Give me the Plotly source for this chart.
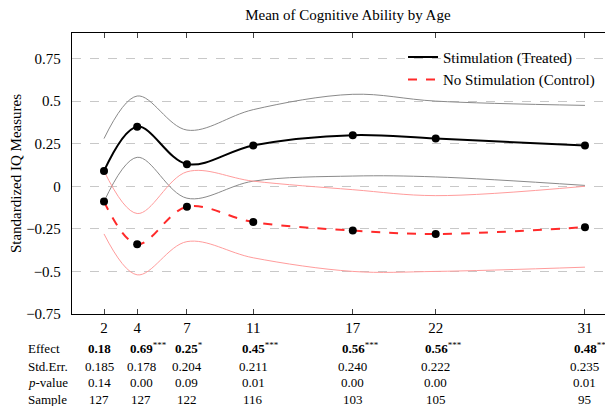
import plotly.graph_objects as go

# ages (x positions) and group means
ages = [2, 4, 7, 11, 17, 22, 31]
treated = [0.09, 0.35, 0.13, 0.24, 0.30, 0.28, 0.24]
control = [-0.09, -0.34, -0.12, -0.21, -0.26, -0.28, -0.24]

# confidence bands
treated_hi = [0.28, 0.53, 0.33, 0.45, 0.54, 0.50, 0.475]
treated_lo = [-0.09, 0.17, -0.07, 0.03, 0.06, 0.055, 0.005]
control_hi = [0.09, -0.16, 0.085, 0.03, -0.02, -0.055, 0.0]
control_lo = [-0.28, -0.52, -0.325, -0.42, -0.50, -0.50, -0.475]

# table under the chart
effect = ["0.18", "0.69", "0.25", "0.45", "0.56", "0.56", "0.48"]
stars = ["", "***", "*", "***", "***", "***", "**"]
std_err = ["0.185", "0.178", "0.204", "0.211", "0.240", "0.222", "0.235"]
p_value = ["0.14", "0.00", "0.09", "0.01", "0.00", "0.00", "0.01"]
sample = [127, 127, 122, 116, 103, 105, 95]

y_ticks = [-0.75, -0.5, -0.25, 0, 0.25, 0.5, 0.75]

font = "Liberation Serif"
fig = go.Figure()

# bands
for ys, col in [(treated_hi, "#8a8a8a"), (treated_lo, "#8a8a8a"),
                (control_hi, "#ff9c9c"), (control_lo, "#ff9c9c")]:
    fig.add_trace(go.Scatter(x=ages, y=ys, mode="lines", showlegend=False,
                             line=dict(color=col, width=1, shape="spline"),
                             hoverinfo="skip"))

# means
fig.add_trace(go.Scatter(x=ages, y=treated, mode="lines", name="Stimulation (Treated)",
                         line=dict(color="black", width=2, shape="spline")))
fig.add_trace(go.Scatter(x=ages, y=control, mode="lines", name="No Stimulation (Control)",
                         line=dict(color="#ff2a2a", width=2, dash="dash", shape="spline")))
for ys in [treated, control]:
    fig.add_trace(go.Scatter(x=ages, y=ys, mode="markers", showlegend=False,
                             marker=dict(color="black", size=8)))

# table rows (page has an 8px body margin, offsets below account for it)
col_dx = [-5, 4, 0, 0, 0, 0, 0]
rows = [
    ("Effect", ["<b>%s</b>%s" % (e, "<sup>%s</sup>" % s if s else "") for e, s in zip(effect, stars)],
     [len(s) * 2.5 for s in stars]),
    ("Std.Err.", std_err, [0] * 7),
    ("<i>p</i>-value", p_value, [0] * 7),
    ("Sample", [str(s) for s in sample], [0] * 7),
]
row_shift = [-34, -52, -68, -85]
for (label, vals, xs), shift in zip(rows, row_shift):
    fig.add_annotation(x=-0.085, y=0, xref="paper", yref="paper", text=label,
                       xanchor="left", yanchor="middle", yshift=shift, showarrow=False,
                       font=dict(size=13, color="black", family=font))
    for a, v, dx, cdx in zip(ages, vals, xs, col_dx):
        fig.add_annotation(x=a, y=0, xref="x", yref="paper", text=v,
                           xanchor="center", yanchor="middle", yshift=shift, xshift=dx + cdx,
                           showarrow=False, font=dict(size=13, color="black", family=font))

fig.update_layout(
    width=605, height=398,
    margin=dict(l=64, r=0, t=25, b=92),
    plot_bgcolor="white", paper_bgcolor="white",
    font=dict(family=font, color="black", size=15),
    title=dict(text="Mean of Cognitive Ability by Age", xref="paper", x=0.51, xanchor="center",
               yref="container", y=0.982, yanchor="middle", font=dict(size=15)),
    legend=dict(x=0.976, y=0.972, xanchor="right", yanchor="top", bgcolor="rgba(255,255,255,0)",
                font=dict(size=15), tracegroupgap=0),
    showlegend=True,
)
fig.update_xaxes(range=[0.07, 32.69], tickvals=ages, ticks="inside", ticklen=5,
                 showline=True, linecolor="black", linewidth=1.3, mirror="ticks",
                 showgrid=False, zeroline=False, tickfont=dict(size=15))
fig.update_yaxes(range=[-0.75, 0.9], tickvals=y_ticks, ticks="", showline=True,
                 linecolor="black", linewidth=1.3, showgrid=True, gridcolor="#c8c8c8",
                 griddash="dash", gridwidth=1, zeroline=False, tickfont=dict(size=15),
                 ticklabelstandoff=7,
                 title=dict(text="Standardized IQ Measures", font=dict(size=15), standoff=7))

fig.write_html("out.html")
